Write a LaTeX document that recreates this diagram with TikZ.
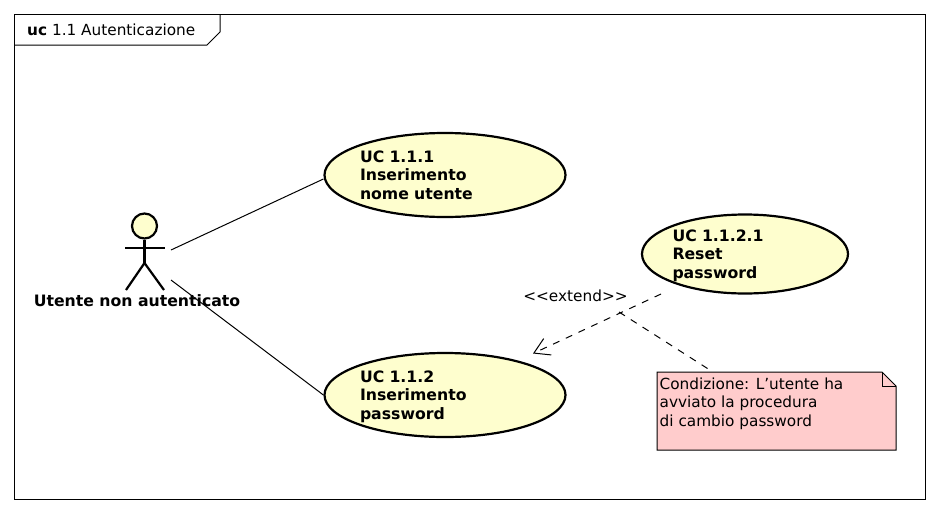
\documentclass[tikz,border=0pt]{standalone}
\usepackage{fontspec}
\setmainfont{DejaVu Sans}
\usetikzlibrary{shapes,positioning,arrows.meta}
\definecolor{ucfill}{HTML}{FEFECE}
\definecolor{notefill}{HTML}{FFCCCC}
\tikzset{
    usecase/.style={draw, ellipse, fill=ucfill, line width=2.2pt, inner sep=0pt, align=left, font=\bfseries\fontsize{15.7}{18.7}\selectfont},
    plain/.style={inner sep=0pt, align=left, font=\fontsize{15.3}{18.5}\selectfont},
    link/.style={line width=1pt},
    actor/.style={line width=2.2pt}
}
\begin{document}
\begin{tikzpicture}[x=1pt,y=-1pt]
    \useasboundingbox (0, 0) rectangle (938, 512);
    % --------
    % Frame
    % --------
    \draw[line width=1pt] (14, 14) rectangle (925, 499);
    \draw[line width=1pt] (14, 45) -- (207, 45) -- (220, 32) -- (220, 14);
    \node[plain, anchor=west] at (27, 30) (title) {\textbf{uc} 1.1 Autenticazione};

    % --------
    % Use cases
    % --------
    \node[usecase, text width=170pt, minimum width=241pt, minimum height=84pt] at (445, 175) (login) {UC 1.1.1\\Inserimento\\nome utente};
    \node[usecase, text width=170pt, minimum width=241pt, minimum height=84pt] at (445, 395) (password) {UC 1.1.2\\Inserimento\\\smash{password}};
    \node[usecase, text width=145pt, minimum width=206pt, minimum height=79pt] at (745, 254) (reset) {UC 1.1.2.1\\Reset\\\smash{password}};

    % --------
    % Actor
    % --------
    \node[draw, circle, fill=ucfill, actor, minimum size=25pt, inner sep=0pt] at (144.5, 226) (head) {};
    \draw[actor] (head.south) -- (144.5, 263) coordinate (hip);
    \draw[actor] (125, 248) -- (165, 248);
    \draw[actor] (126, 290) -- (hip) -- (164, 290);
    \node[plain, font=\bfseries\fontsize{15.7}{18.7}\selectfont] at (137, 301) (user) {Utente non autenticato};
    \coordinate (userA) at (171, 250);
    \coordinate (userB) at (171, 280);

    % --------
    % Note
    % --------
    \draw[line width=1pt, fill=notefill] (657, 372) -- (882, 372) -- (896, 386) -- (896, 450) -- (657, 450) -- cycle;
    \draw[line width=1pt] (882, 372) -- (882, 386) -- (896, 386);
    \node[plain, anchor=north west] at (659.5, 377.5) (note) {Condizione: L'utente ha\\avviato la procedura\\di cambio password};
    \coordinate (noteTop) at (713, 372);

    % Draw line
    \coordinate (resetEnd) at (661, 294);
    \coordinate (passEnd) at (533, 353.5);
    \coordinate (joint) at (619, 312);
    \draw[link] (userA) -- (login.west |- 0, 179);
    \draw[link] (userB) -- (password.west);
    \draw[link, dashed, dash pattern=on 7pt off 7pt, -{Straight Barb[length=15pt, width=18pt, line width=1pt]}] (resetEnd) -- (passEnd);
    \draw[link, dashed, dash pattern=on 7pt off 7pt] (joint) -- (noteTop);
    \node[plain] at (575.5, 295.5) (extend) {<{}<extend>{}>};
\end{tikzpicture}
\end{document}
